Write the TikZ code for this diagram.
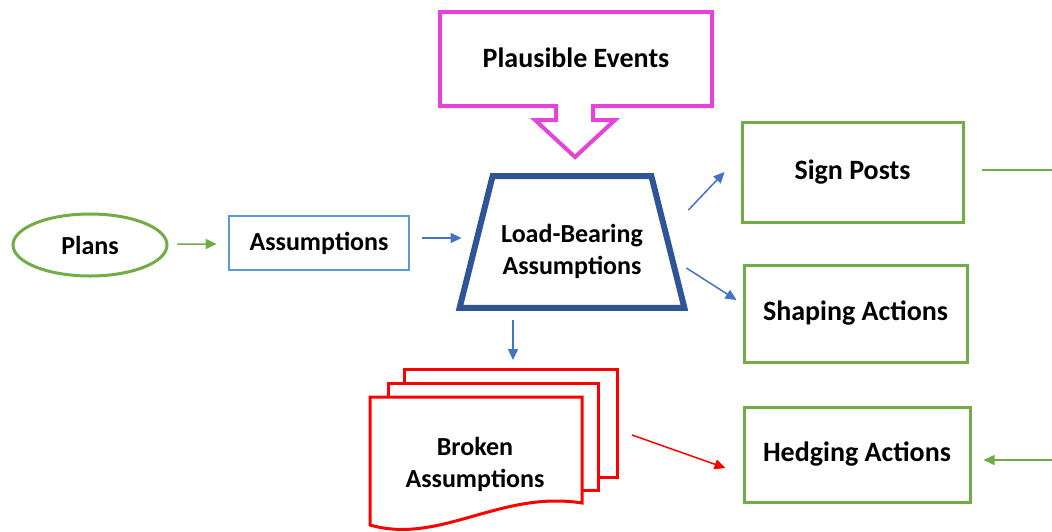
\documentclass[tikz,border=0pt]{standalone}
\usepackage{fontspec}
\setmainfont{Carlito}
\usetikzlibrary{arrows.meta,shapes.geometric}
\definecolor{planGreen}{HTML}{70AD47}
\definecolor{boxBlue}{HTML}{5B9BD5}
\definecolor{arrowBlue}{HTML}{4472C4}
\definecolor{loadBlue}{HTML}{2F5597}
\definecolor{eventPink}{RGB}{228,68,216}
\definecolor{brokenRed}{RGB}{255,0,0}
\tikzset{
	boxtext/.style={font=\fontsize{13}{16}\selectfont\bfseries, align=center},
	bigtext/.style={font=\fontsize{14}{17}\selectfont\bfseries, align=center},
	actionbox/.style={bigtext, draw=planGreen, line width=1.5pt},
	flow/.style={-{Triangle[length=5.5pt,width=5pt]}, line width=0.75pt},
	pagesheet/.style={draw=brokenRed, line width=1.5pt, fill=white},
}

\begin{document}
\begin{tikzpicture}[x=0.5pt, y=-0.5pt]
		%%%%% START %%%%%
		\useasboundingbox (0, 0) rectangle (1052, 531);
		
		% callout on top
		\draw[line width=2pt, color=eventPink] (440, 12) -- (712, 12) -- (712, 106) -- (593, 106) -- (593, 120) -- (615, 120) -- (575, 157) -- (535, 120) -- (556, 120) -- (556, 106) -- (440, 106) -- cycle;
		\node[bigtext] (events) at (576, 58) {Plausible Events};
		
		% left column
		\node[boxtext, ellipse, draw=planGreen, line width=1.5pt, minimum width=77pt, minimum height=31pt, inner sep=0pt] (plans) at (90, 245) {Plans};
		\node[boxtext, draw=boxBlue, line width=1.3pt, minimum width=90pt, minimum height=27pt] (assump) at (319, 243) {Assumptions};
		
		% trapezoid
		\node[minimum width=112pt, minimum height=65.5pt] (load) at (572, 242) {};
		\draw[line width=3pt, color=loadBlue, line join=miter] (load.south west) -- ([xshift=16.5pt]load.north west) -- ([xshift=-16.5pt]load.north east) -- (load.south east) -- cycle;
		\node[boxtext] (loadtext) at ([yshift=-4.5pt]load.center) {Load-Bearing\\Assumptions};
		
		% right column
		\node[actionbox, minimum width=110.5pt, minimum height=50pt] (sign) at (852.5, 172) {Sign Posts};
		\node[actionbox, minimum width=111.5pt, minimum height=48.5pt] (shaping) at (855.5, 313.5) {Shaping Actions};
		\node[actionbox, minimum width=113pt, minimum height=47.5pt] (hedging) at (857, 454.5) {Hedging Actions};
		
		% stack of pages
		\draw[pagesheet] (598, 477) -- (617, 477) -- (617, 369) -- (404, 369) -- (404, 383);
		\draw[pagesheet] (582, 490) -- (598, 490) -- (598, 383) -- (388, 383) -- (388, 397);
		\draw[pagesheet] (370, 397) -- (582, 397) -- (582, 503) .. controls (500, 490) and (440, 545) .. (370, 525) -- cycle;
		\node[boxtext] (broken) at (475, 464) {Broken\\Assumptions};
		\coordinate (brokentop) at (513, 369);
		\coordinate (brokenside) at (632, 435);
		
		% loose ends at the right border
		\coordinate (signout) at (1052, 170);
		\coordinate (hedgein) at (1052, 460);
		
		% arrows
		\draw[flow, color=planGreen] (plans) -- (assump) [shorten <=4.5pt, shorten >=5.5pt];
		\draw[flow, color=arrowBlue, shorten <=6pt] ([yshift=2.5pt]assump.east) -- ([yshift=2.5pt, xshift=1pt]assump.east -| load.west);
		\draw[flow, color=arrowBlue] ([xshift=2pt, yshift=16pt]load.east) -- ([xshift=-8pt]sign.west);
		\draw[flow, color=arrowBlue] ([xshift=1pt, yshift=-13pt]load.east) -- ([xshift=-3pt, yshift=6.75pt]shaping.west);
		\draw[flow, color=arrowBlue, shorten <=6pt, shorten >=4.5pt] (load.south -| brokentop) -- (brokentop);
		\draw[flow, color=brokenRed] (brokenside) -- ([xshift=-8.5pt, yshift=-6.75pt]hedging.west);
		\draw[line width=0.75pt, color=planGreen] ([xshift=8.5pt, yshift=1pt]sign.east) -- (signout);
		\draw[flow, color=planGreen] (hedgein) -- ([xshift=6pt, yshift=-2.75pt]hedging.east);
		%%%%% END %%%%%
\end{tikzpicture}
\end{document}
